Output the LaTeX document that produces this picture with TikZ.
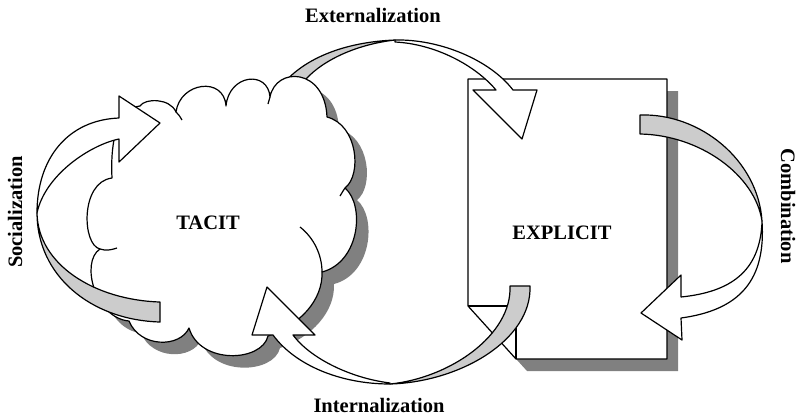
\documentclass[tikz,border=0pt]{standalone}
\usepackage{fontspec}
\setmainfont{Liberation Serif}
\begin{document}
\begin{tikzpicture}[x=1pt,y=-1pt,line width=1.2pt,line join=round,
  lbl/.style={font=\fontsize{20.5}{24}\selectfont\bfseries,inner sep=0pt},
  front/.style={draw=black,fill=white},
  back/.style={draw=black,fill=black!20},
  shade/.style={fill=black!50,draw=none}]
\useasboundingbox (0,0) rectangle (799,418);
\fill[white] (0,0) rectangle (799,418);

% ---------- document (EXPLICIT) ----------
\path[shade] (479,91) -- (678,91) -- (678,371) -- (527,371) -- (479,318) -- cycle;
\path[front] (468,79) -- (667,79) -- (667,359) -- (516,359) -- (468,306) -- cycle;
\draw (468,306) -- (516,306) -- (516,359);

% ---------- Externalization arrow (tail behind cloud) ----------
\path[back] (280,100) -- (283,84) .. controls (305,58) and (345,42) .. (395,40)
   .. controls (360,44) and (325,58) .. (305,80) -- (302,100) -- cycle;
\path[front] (395,40) .. controls (440,39) and (490,60) .. (513,90) -- (537,90) -- (522,139)
   -- (473,90) -- (496,90) .. controls (475,65) and (435,44) .. (395,42) -- cycle;

% ---------- cloud (TACIT) ----------
\def\cloudpath{(112,178) .. controls (110,140) and (118,108) .. (140,106)
  .. controls (145,98) and (170,98) .. (176,112)
  .. controls (180,82) and (224,76) .. (226,106)
  .. controls (229,74) and (268,70) .. (270,97)
  .. controls (276,66) and (325,68) .. (327,117)
  .. controls (358,125) and (362,175) .. (345,188)
  .. controls (365,205) and (360,262) .. (322,272)
  .. controls (323,300) and (300,325) .. (268,336)
  .. controls (262,362) and (200,365) .. (189,328)
  .. controls (180,348) and (140,348) .. (129,321)
  .. controls (95,318) and (80,262) .. (100,249)
  .. controls (82,245) and (80,182) .. (112,178) -- cycle}
\begin{scope}[shift={(12,12)}]
\path[shade] \cloudpath;
\end{scope}
\path[front] \cloudpath;
\draw (176,112) .. controls (179,115) .. (182,120);
\draw (268,104) .. controls (269,101) .. (270,97);
\draw (345,188) .. controls (343,191) .. (340,196);
\draw (300,227) .. controls (314,238) and (322,255) .. (322,272);
\draw (100,249) .. controls (106,251) and (111,250) .. (117,248);

% ---------- Socialization arrow ----------
\path[back] (37,213) .. controls (38,265) and (95,300) .. (160,302) -- (160,322)
   .. controls (90,320) and (37,275) .. (37,213) -- cycle;
\path[front] (37,213) .. controls (37,158) and (68,120) .. (119,118) -- (119,96) -- (160,123)
   -- (119,162) -- (119,139) .. controls (90,145) and (45,175) .. (37,213) -- cycle;

% ---------- Internalization arrow ----------
\path[back] (530,286) .. controls (532,340) and (460,382) .. (390,384)
   .. controls (450,378) and (512,335) .. (510,286) -- cycle;
\path[front] (390,384) .. controls (340,384) and (295,365) .. (273,335) -- (252,335) -- (267,287)
   -- (315,335) -- (293,335) .. controls (310,358) and (350,378) .. (390,383) -- cycle;

% ---------- Combination arrow ----------
\path[back] (640,115) .. controls (700,113) and (758,160) .. (762,221)
   .. controls (755,175) and (700,135) .. (640,134) -- cycle;
\path[front] (762,221) .. controls (766,280) and (740,310) .. (681,318) -- (682,340) -- (641,313)
   -- (681,275) -- (681,297) .. controls (730,292) and (760,272) .. (762,222) -- cycle;

% ---------- labels ----------
\node[lbl] (tacit) at (208,223) {TACIT};
\node[lbl] (explicit) at (562,233) {EXPLICIT};
\node[lbl] (ext) at (373,15) {Externalization};
\node[lbl] (int) at (379,405) {Internalization};
\node[lbl,rotate=90] (soc) at (15,212) {Socialization};
\node[lbl,rotate=-90] (comb) at (788,206) {Combination};
\end{tikzpicture}
\end{document}
